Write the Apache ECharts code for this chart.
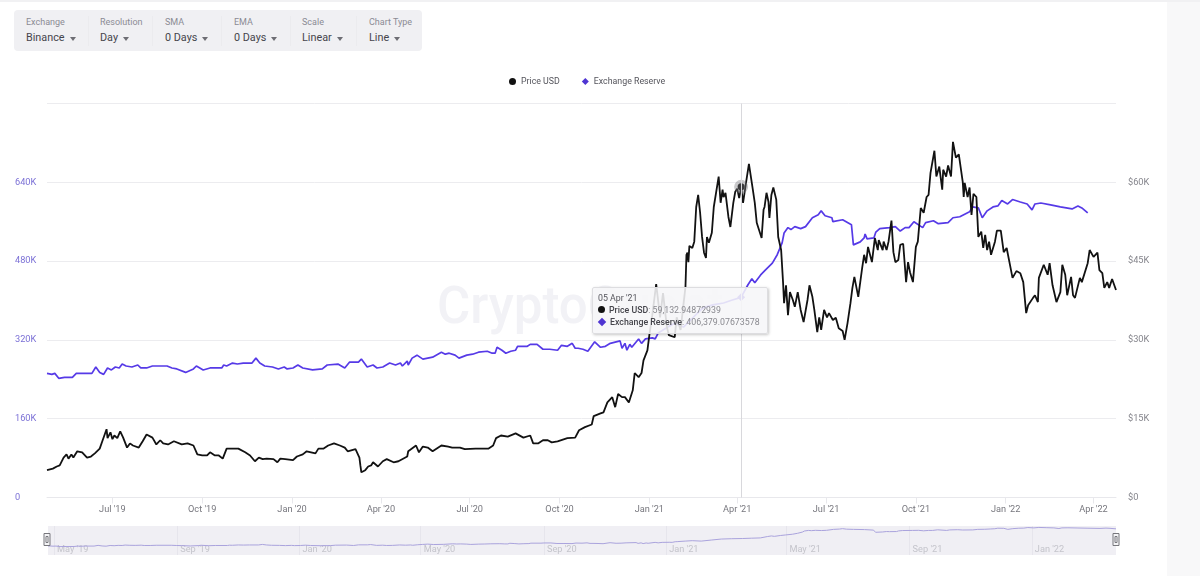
<!DOCTYPE html>
<html>
<head>
    <meta charset="utf-8">
    <title>Binance Exchange Reserve</title>
    <script src="https://cdn.jsdelivr.net/npm/echarts@6/dist/echarts.min.js"></script>
    <style>
        html, body { margin: 0; padding: 0; background: #fff; font-family: Roboto, "Noto Sans", sans-serif; }
        #page { position: relative; width: 1200px; height: 576px; overflow: hidden; }
        #side { position: absolute; left: 1167px; top: 0; width: 33px; height: 576px; background: #f8f8f9; }
        #topline { position: absolute; left: 0; top: 0; width: 1200px; height: 2px; background: #f1f1f3; }
        #chart { position: absolute; left: 0; top: 0; width: 1200px; height: 576px; }
        #toolbar { position: absolute; left: 14px; top: 10px; width: 408px; height: 41px; background: #f0f0f3; border-radius: 4px; }
        .tool { position: absolute; top: 0; height: 41px; }
        .tool .name { position: absolute; top: 6px; left: 0; font-size: 9px; line-height: 13px; color: #8b8b93; white-space: nowrap; }
        .tool .val { position: absolute; top: 20px; left: 0; font-size: 10.8px; line-height: 15px; color: #45454c; white-space: nowrap; }
        .tool .val i { display: inline-block; margin-left: 5px; width: 0; height: 0; border-left: 3.5px solid transparent; border-right: 3.5px solid transparent; border-top: 4px solid #6d6d74; vertical-align: 0; }
        .sep { position: absolute; top: 6px; width: 1px; height: 30px; background: #ebebee; }
    </style>
</head>
<body>
<div id="page">
    <div id="side"></div>
    <div id="topline"></div>
    <div id="chart"></div>
    <div id="toolbar"></div>
</div>

<script>
    // toolbar
    const toolNames = ['Exchange', 'Resolution', 'SMA', 'EMA', 'Scale', 'Chart Type'];
    const toolValues = ['Binance', 'Day', '0 Days', '0 Days', 'Linear', 'Line'];

    // days counted from startDate
    const startDate = '2019-04-25';
    const priceDays = [0,6,10,13,17,20,22,25,27,31,36,38,41,45,49,54,57,61,62,65,67,69,72,75,78,82,85,88,94,98,102,108,112,116,119,124,130,138,144,150,154,159,164,167,172,176,180,182,184,191,196,203,208,213,217,221,225,232,236,239,244,252,256,262,266,275,278,283,288,294,300,305,308,316,320,321,322,326,329,332,334,339,344,348,355,360,369,370,378,381,385,390,395,404,411,415,423,428,439,452,457,460,465,472,480,488,495,498,503,508,513,517,523,533,541,545,551,558,560,567,570,574,579,582,585,589,592,596,600,602,606,609,611,615,617,620,624,628,631,635,637,643,645,649,654,655,656,657,658,661,663,665,667,669,671,673,675,676,678,681,683,688,690,692,693,695,698,700,703,705,707,709,711,713,716,719,721,723,725,727,732,734,735,737,739,740,742,744,747,749,750,752,754,755,757,759,761,764,766,769,772,775,779,781,784,786,789,791,793,796,799,801,805,808,811,815,817,820,823,825,827,831,835,837,839,841,845,848,851,852,856,857,860,862,865,867,869,872,874,877,880,882,884,887,890,892,895,898,901,903,905,909,911,914,917,918,921,923,926,928,931,934,938,939,940,943,945,947,949,952,954,957,959,961,963,965,967,971,973,977,980,983,987,989,993,997,1000,1003,1005,1010,1012,1015,1016,1021,1025,1027,1030,1034,1038,1040,1043,1045,1049,1051,1053,1058,1060,1066,1068,1070,1072,1076,1078,1081,1083,1086,1088,1091,1095];
    const priceUsdK = [5.2,5.5,5.9,6.1,7.6,8.2,7.4,8.2,7.6,8.8,8.6,8.8,7.6,7.8,8.4,9.3,10.9,13.0,11.3,12.4,11.1,11.8,11.3,12.6,11.4,9.5,10.3,9.9,9.5,10.7,12.0,11.4,10.1,10.9,10.3,10.1,10.7,10.1,10.3,9.9,8.2,8.0,8.0,8.6,8.0,8.0,7.4,7.4,9.3,9.3,9.3,8.6,8.0,6.9,7.6,7.3,7.4,7.3,6.7,7.4,7.3,7.1,7.8,8.2,8.8,8.4,9.3,9.3,9.9,10.3,9.9,9.5,8.8,9.2,7.6,6.1,4.8,5.2,5.9,6.1,6.7,5.9,6.9,7.3,6.7,6.9,7.8,8.8,9.9,8.6,9.7,9.5,8.8,9.9,9.7,9.5,9.5,9.2,9.3,9.3,9.9,11.3,11.8,11.6,12.2,11.4,11.8,10.3,10.3,10.9,10.9,10.5,10.7,11.3,11.4,12.8,13.4,13.9,15.5,16.0,16.2,18.1,19.1,17.2,19.7,19.1,19.1,18.1,20.4,23.7,22.9,23.7,26.1,28.0,30.9,34.7,40.6,34.3,38.9,32.4,30.9,30.5,34.3,31.9,40.1,46.2,46.6,44.8,47.9,47.5,48.7,55.3,57.6,54.2,49.6,46.6,45.6,49.6,48.5,50.4,55.3,61.1,56.1,58.6,57.2,58.0,53.4,51.5,56.1,58.2,58.8,57.0,59.13294872939,56.1,59.9,63.5,63.3,58.6,56.1,52.3,49.4,54.8,55.3,58.0,56.3,53.2,57.6,59.0,56.7,49.6,49.6,47.1,40.8,37.0,40.4,34.7,39.1,37.6,36.3,39.1,35.7,33.4,37.6,40.4,38.2,35.7,31.5,34.3,31.9,35.7,34.3,35.1,33.8,34.2,32.2,31.7,30.0,33.2,37.0,39.9,42.0,38.2,43.7,46.2,44.6,47.7,44.8,49.4,47.1,49.0,47.1,48.7,47.1,48.7,52.7,46.7,44.8,45.2,48.1,48.3,41.0,44.8,42.9,41.0,47.7,48.7,55.1,54.2,57.2,57.6,61.8,66.0,61.1,63.0,58.6,62.4,61.1,63.2,61.1,67.7,64.7,65.3,60.1,57.2,59.9,57.2,59.0,53.8,57.8,57.2,49.6,50.6,47.5,50.0,47.1,48.7,46.2,48.7,50.8,50.8,46.7,47.5,43.7,41.8,43.1,42.7,41.0,35.1,36.6,38.0,38.5,37.2,41.8,44.3,42.4,44.6,40.4,37.2,39.1,44.3,42.4,38.5,42.0,38.5,38.0,41.8,41.0,44.6,47.1,47.3,45.8,46.6,43.3,42.7,39.9,41.0,39.9,41.6,39.5];

    const reserveDays = [0,2,5,8,12,18,26,30,32,37,46,50,54,58,62,66,70,74,77,81,87,93,96,102,108,123,128,133,142,150,153,160,167,179,181,184,190,195,201,210,214,218,223,231,237,243,246,252,257,262,272,282,287,298,305,310,319,322,328,334,338,344,351,357,362,364,369,370,374,379,385,395,404,408,412,418,422,430,436,442,451,456,459,461,466,470,475,480,482,492,495,502,508,515,523,527,533,538,541,544,549,554,561,567,572,577,587,589,592,594,597,599,606,609,613,620,623,626,628,636,643,652,662,672,682,693,702,711,718,722,725,731,736,743,748,753,755,759,762,766,772,777,784,790,793,797,804,805,815,824,826,833,837,838,840,847,849,853,863,869,874,879,883,888,897,900,908,913,923,928,935,941,945,948,954,958,963,969,974,978,984,989,997,1004,1009,1012,1018,1028,1038,1050,1056,1060,1066];
    const reserveK = [252,254,250,252,242,244,244,252,248,252,252,265,254,250,263,259,265,263,271,267,265,269,263,263,267,267,263,261,254,261,267,259,263,263,269,267,273,271,273,273,283,273,267,265,261,265,261,263,269,263,259,261,269,271,263,275,275,281,265,269,263,265,273,269,273,267,277,269,283,289,281,285,295,291,293,289,283,289,291,295,297,293,293,305,299,293,297,299,307,307,311,311,301,301,299,309,307,313,303,303,301,297,316,305,307,313,318,303,313,299,311,305,322,313,322,324,322,334,336,346,354,346,366,385,391,395,401,406.37907673578,432,444,436,452,462,476,493,517,537,548,544,550,546,550,568,574,582,572,568,560,564,554,513,519,527,535,525,527,539,546,548,550,541,548,548,560,548,558,562,556,558,568,570,576,580,590,588,568,582,590,592,603,596,605,600,596,584,596,598,594,590,586,592,588,578];

    // axis ticks
    const tickDates = ['2019-07-01','2019-10-01','2020-01-01','2020-04-01','2020-07-01','2020-10-01','2021-01-01','2021-04-01','2021-07-01','2021-10-01','2022-01-01','2022-04-01'];
    const navTickDates = ['2019-05-01','2019-09-01','2020-01-01','2020-05-01','2020-09-01','2021-01-01','2021-05-01','2021-09-01','2022-01-01'];
    const months = ['Jan','Feb','Mar','Apr','May','Jun','Jul','Aug','Sep','Oct','Nov','Dec'];

    const hoverDay = 711;
    const dayMs = 86400000;
    const startMs = new Date(startDate + 'T00:00:00').getTime();
    const toMs = d => startMs + d * dayMs;
    const localMs = s => new Date(s + 'T00:00:00').getTime();
    const monthLabel = v => { const d = new Date(v); return months[d.getMonth()] + " '" + String(d.getFullYear()).slice(2); };
    const dayLabel = v => { const d = new Date(v); return String(d.getDate()).padStart(2, '0') + ' ' + monthLabel(v); };
    const fmt = v => v.toLocaleString('en-US', { maximumFractionDigits: 8 });

    const priceData = priceDays.map((d, i) => [toMs(d), priceUsdK[i] * 1000]);
    const reserveData = reserveDays.map((d, i) => [toMs(d), reserveK[i] * 1000]);

    // toolbar cells, left offsets inside the bar
    const toolLefts = [12, 86, 151, 220, 288, 355];
    const sepLefts = [74, 138, 207, 276, 342];
    const bar = document.getElementById('toolbar');
    toolNames.forEach((n, i) => {
        const el = document.createElement('div');
        el.className = 'tool';
        el.style.left = toolLefts[i] + 'px';
        el.innerHTML = '<div class="name">' + n + '</div><div class="val">' + toolValues[i] + '<i></i></div>';
        bar.appendChild(el);
    });
    sepLefts.forEach(l => {
        const el = document.createElement('div');
        el.className = 'sep';
        el.style.left = l + 'px';
        bar.appendChild(el);
    });

    const FONT = 'Roboto, "Noto Sans", sans-serif';
    const myChart = echarts.init(document.getElementById('chart'), null, { renderer: 'canvas' });

    myChart.setOption({
        animation: false,
        textStyle: { fontFamily: FONT },
        graphic: [{
            type: 'text', left: 437, top: 285, z: 0, silent: true,
            style: { text: 'CryptoQuant', font: '500 51px ' + FONT, fill: '#f2f2f6' }
        }],
        legend: {
            left: 504, top: 72, itemWidth: 7, itemHeight: 7, itemGap: 22,
            textStyle: { fontSize: 8.8, color: '#55555c', fontFamily: FONT },
            data: [{ name: 'Price USD', icon: 'circle' }, { name: 'Exchange Reserve', icon: 'diamond' }]
        },
        tooltip: {
            trigger: 'axis',
            position: [592, 287],
            transitionDuration: 0,
            backgroundColor: 'rgba(246,246,248,0.88)',
            borderColor: '#dddde0',
            borderWidth: 1,
            padding: [4, 7, 5, 5],
            extraCssText: 'box-shadow:1px 1px 3px rgba(0,0,0,.22);border-radius:2px;',
            axisPointer: { type: 'line', lineStyle: { color: '#d8d8dc', width: 1, type: 'solid' }, label: { show: false } },
            formatter: params => {
                const marks = {
                    'Price USD': '<span style="display:inline-block;width:7px;height:7px;border-radius:50%;background:#111;margin-right:4px;"></span>',
                    'Exchange Reserve': '<span style="display:inline-block;width:6px;height:6px;background:#4f35d2;transform:rotate(45deg);margin:0 5px 0 1px;"></span>'
                };
                let html = '<div style="font:8.8px/12px Roboto,sans-serif;color:#55555c;">' + dayLabel(params[0].value[0]) + '</div>';
                params.forEach(p => {
                    html += '<div style="font:8.8px/12px Roboto,sans-serif;color:#8a8a90;white-space:nowrap;">' + marks[p.seriesName]
                        + '<b style="font-weight:500;color:#45454c;">' + p.seriesName + '</b>: ' + fmt(p.value[1]) + '</div>';
                });
                return html;
            }
        },
        grid: [
            { left: 47, right: 84, top: 103.5, bottom: 78.5 },
            { left: 48, right: 84, top: 526, bottom: 21, show: true, backgroundColor: '#f0eff4', borderWidth: 0 }
        ],
        // value axes holding epoch ms: custom tick lists fail on a time axis
        xAxis: [{
            type: 'value',
            gridIndex: 0,
            min: toMs(0),
            max: toMs(1095),
            axisLine: { onZero: false, lineStyle: { color: '#e8e8ec' } },
            axisTick: { show: true, length: 6, lineStyle: { color: '#e8e8ec' }, customValues: tickDates.map(localMs) },
            axisLabel: { color: '#77777e', fontSize: 9.2, margin: 8, formatter: monthLabel, customValues: tickDates.map(localMs), hideOverlap: false },
            splitLine: { show: false }
        }, {
            type: 'value',
            gridIndex: 1,
            min: toMs(reserveDays[0]),
            max: toMs(reserveDays[reserveDays.length - 1]),
            axisPointer: { show: false },
            axisLine: { show: false },
            axisTick: { show: false, customValues: navTickDates.map(localMs) },
            axisLabel: { inside: true, color: '#c4c4cb', fontSize: 9.2, margin: 1, align: 'left', padding: [0, 0, 0, 3], formatter: monthLabel, customValues: navTickDates.map(localMs), hideOverlap: false },
            splitLine: { show: true, lineStyle: { color: '#e6e5ec' } }
        }],
        yAxis: [{
            type: 'value',
            gridIndex: 0,
            min: 0,
            max: 800000,
            interval: 160000,
            position: 'left',
            axisLine: { show: false },
            axisTick: { show: false },
            axisLabel: { color: '#7b70d6', fontSize: 9.2, align: 'left', margin: 32, padding: [3, 0, 0, 0], showMaxLabel: false, formatter: v => (v === 0 ? '0' : (v / 1000) + 'K') },
            splitLine: { lineStyle: { color: '#ececef' } }
        }, {
            type: 'value',
            gridIndex: 0,
            min: 0,
            max: 75000,
            interval: 15000,
            position: 'right',
            axisLine: { show: false },
            axisTick: { show: false },
            axisLabel: { color: '#85858c', fontSize: 9.2, align: 'left', margin: 12, padding: [3, 0, 0, 0], showMaxLabel: false, formatter: v => '$' + (v / 1000) + (v === 0 ? '' : 'K') },
            splitLine: { show: false }
        }, {
            type: 'value',
            gridIndex: 1,
            min: 83000,
            max: 632000,
            show: false
        }],
        dataZoom: [{
            type: 'slider',
            xAxisIndex: [0],
            filterMode: 'none',
            left: 45,
            right: 84,
            top: 526,
            height: 27,
            start: 0,
            end: 100,
            showDetail: false,
            showDataShadow: false,
            brushSelect: false,
            moveHandleSize: 0,
            backgroundColor: 'transparent',
            fillerColor: 'transparent',
            borderColor: 'transparent',
            handleIcon: 'path://M0,0H6V12H0Z M2,3V9H4V3Z',
            handleSize: 12,
            handleStyle: { color: '#f4f4f6', borderColor: '#77777c', borderWidth: 1 }
        }],
        series: [{
            name: 'Price USD',
            type: 'line',
            xAxisIndex: 0,
            yAxisIndex: 1,
            z: 4,
            data: priceData,
            symbol: 'circle',
            symbolSize: 7,
            showSymbol: false,
            itemStyle: { color: '#111' },
            lineStyle: { color: '#111', width: 1.8 },
            emphasis: { scale: false, lineStyle: { width: 1.8 }, itemStyle: { color: '#111', borderColor: 'rgba(120,120,125,0.4)', borderWidth: 7 } }
        }, {
            name: 'Exchange Reserve',
            type: 'line',
            xAxisIndex: 0,
            yAxisIndex: 0,
            z: 3,
            data: reserveData,
            symbol: 'diamond',
            symbolSize: 8,
            showSymbol: false,
            itemStyle: { color: '#4f35d2' },
            lineStyle: { color: '#4f35d2', width: 1.7 },
            emphasis: { scale: false, lineStyle: { width: 1.7 } }
        }, {
            name: 'Navigator',
            type: 'line',
            xAxisIndex: 1,
            yAxisIndex: 2,
            data: reserveData,
            silent: true,
            showSymbol: false,
            tooltip: { show: false },
            lineStyle: { color: '#aaa3dd', width: 1 }
        }]
    });

    myChart.dispatchAction({ type: 'showTip', seriesIndex: 0, dataIndex: priceDays.indexOf(hoverDay) });
</script>
</body>
</html>
